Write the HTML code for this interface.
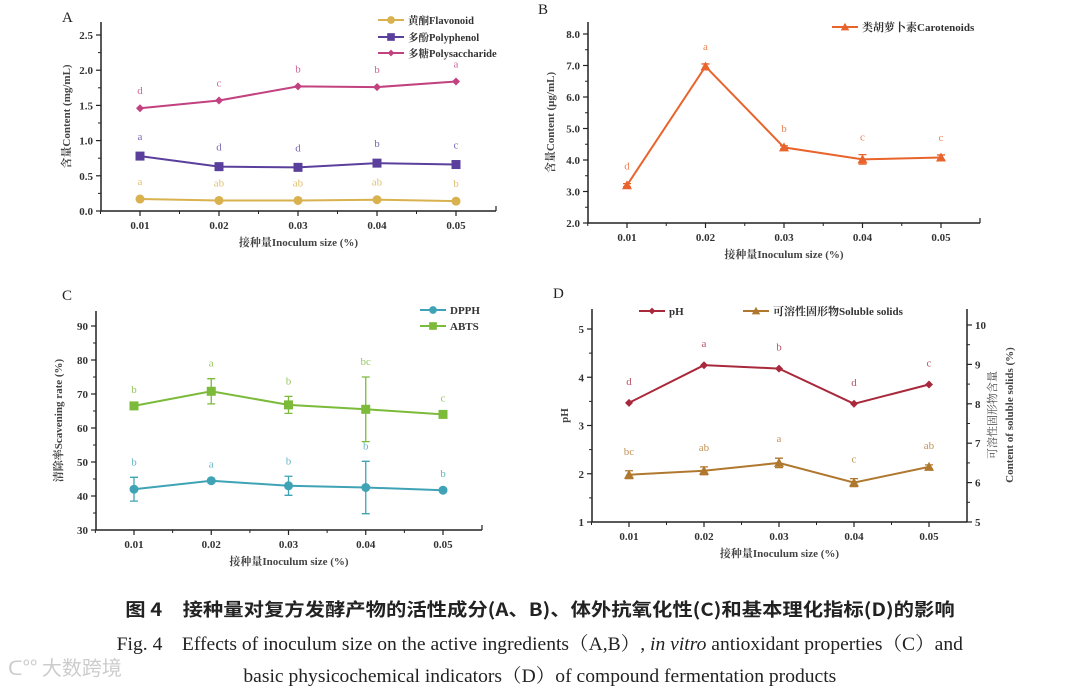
<!DOCTYPE html>
<html><head><meta charset="utf-8"><style>
html,body{margin:0;padding:0;background:#fff;}
body{width:1080px;height:687px;overflow:hidden;position:relative;font-family:"Liberation Serif","Noto Serif CJK SC",serif;}
svg text{font-family:"Liberation Serif","Noto Serif CJK SC",serif;}
.cap{position:absolute;left:0;width:1080px;text-align:center;color:#222;white-space:nowrap;}
</style></head><body>
<svg id="chart" width="1080" height="590" style="position:absolute;left:0;top:0"></svg>
<div class="cap" style="top:596px;font-size:18px;font-weight:bold;font-family:'Noto Sans CJK SC',sans-serif;"><span style="display:inline-block;transform:scaleX(1.13)">图 4　接种量对复方发酵产物的活性成分(A、B)、体外抗氧化性(C)和基本理化指标(D)的影响</span></div>
<div class="cap" style="top:629px;font-size:19px;"><span style="display:inline-block;transform:scaleX(1.03)">Fig. 4　Effects of inoculum size on the active ingredients（A,B）, <i>in vitro</i> antioxidant properties（C）and</span></div>
<div class="cap" style="top:661px;font-size:19px;"><span style="display:inline-block;transform:scaleX(1.03)">basic physicochemical indicators（D）of compound fermentation products</span></div>
<div style="position:absolute;left:8px;top:652px;font-size:20px;color:#ccc;font-family:'Noto Sans CJK SC',sans-serif;">ᑕ°° 大数跨境</div>
<script>
const xCats=["0.01","0.02","0.03","0.04","0.05"];
const flavonoid=[0.17,0.15,0.15,0.16,0.14];
const polyphenol=[0.78,0.63,0.62,0.68,0.66];
const polysaccharide=[1.46,1.57,1.77,1.76,1.84];
const flavLetters=["a","ab","ab","ab","b"];
const polyLetters=["a","d","d","b","c"];
const sacLetters=["d","c","b","b","a"];
const aTicks=["0.0","0.5","1.0","1.5","2.0","2.5"];
const carotenoid=[3.2,6.97,4.4,4.02,4.08];
const carotErr=[0.05,0.08,0.05,0.15,0.08];
const carotLetters=["d","a","b","c","c"];
const bTicks=["2.0","3.0","4.0","5.0","6.0","7.0","8.0"];
const dpph=[42,44.5,43,42.5,41.7];
const dpphErr=[3.5,0.3,2.8,7.7,0.3];
const abts=[66.5,70.8,66.8,65.5,64];
const abtsErr=[0.3,3.7,2.5,9.5,0.3];
const dpphLetters=["b","a","b","b","b"];
const abtsLetters=["b","a","b","bc","c"];
const cTicks=["30","40","50","60","70","80","90"];
const ph=[3.47,4.25,4.18,3.45,3.85];
const solids=[6.2,6.3,6.5,6.0,6.4];
const solidsErr=[0.1,0.1,0.12,0.1,0.05];
const phLetters=["d","a","b","d","c"];
const solidLetters=["bc","ab","a","c","ab"];
const dTicks=["1","2","3","4","5"];
const dRTicks=["5","6","7","8","9","10"];

const svg=document.getElementById('chart');
const NS='http://www.w3.org/2000/svg';
function mk(tag,attrs,parent){const e=document.createElementNS(NS,tag);for(const k in attrs)e.setAttribute(k,attrs[k]);(parent||svg).appendChild(e);return e;}
function txt(s,x,y,attrs,parent){const e=mk('text',Object.assign({x:x,y:y},attrs),parent);e.textContent=s;return e;}

function panel(cfg){
  const g=mk('g',{});
  
  
  const xs=i=>cfg.x0+i*cfg.dx;
  const ys=v=>cfg.yb-(v-cfg.ymin)*cfg.ky;
  cfg.xs=xs;cfg.ys=ys;
  const ax=mk('path',{d:`M${cfg.ax},${cfg.yt}V${cfg.yb}H${cfg.axr}`,stroke:'#222','stroke-width':1.5,fill:'none'},g);
  
  
  if(cfg.rightAxis){mk('line',{x1:cfg.axr,x2:cfg.axr,y1:cfg.yt,y2:cfg.yb,stroke:'#222','stroke-width':1.5},g);}
  else mk('line',{x1:cfg.axr,x2:cfg.axr,y1:cfg.yb,y2:cfg.yb-5,stroke:'#222','stroke-width':1.2},g);
  cfg.ticks.forEach((t,i)=>{const v=parseFloat(t);const y=ys(v);
    mk('line',{x1:cfg.ax-5,x2:cfg.ax,y1:y,y2:y,stroke:'#222','stroke-width':1.2},g);
    if(i<cfg.ticks.length-1){const ym=ys(v+(parseFloat(cfg.ticks[1])-parseFloat(cfg.ticks[0]))/2);mk('line',{x1:cfg.ax-3,x2:cfg.ax,y1:ym,y2:ym,stroke:'#222','stroke-width':1},g);}
    const l=txt(t,cfg.ax-8,y+4,{'text-anchor':'end','font-size':11,fill:'#333','font-weight':'bold'},g);
    
    
  });
  xCats.forEach((c,i)=>{const x=xs(i);
    mk('line',{x1:x,x2:x,y1:cfg.yb,y2:cfg.yb+5,stroke:'#222','stroke-width':1.2},g);
    if(i<xCats.length-1)mk('line',{x1:x+cfg.dx/2,x2:x+cfg.dx/2,y1:cfg.yb,y2:cfg.yb+3,stroke:'#222','stroke-width':1},g);
    const l=txt(c,x,cfg.yb+18,{'text-anchor':'middle','font-size':11,fill:'#333','font-weight':'bold'},g);
    
    
  });
  mk('line',{x1:xs(0)-cfg.dx/2,x2:xs(0)-cfg.dx/2,y1:cfg.yb,y2:cfg.yb+3,stroke:'#222','stroke-width':1},g);
  const xt=txt('接种量Inoculum size (%)',(cfg.ax+cfg.axr)/2,cfg.yb+35,{'text-anchor':'middle','font-size':11,fill:'#444','font-weight':'bold'},g);
  
  
  const cy=(cfg.yt+cfg.yb)/2;
  const yt=txt(cfg.ytitle,cfg.ytx,cy,{'text-anchor':'middle','font-size':11,fill:'#444','font-weight':'bold',transform:`rotate(-90 ${cfg.ytx} ${cy})`},g);
  
  
  const pl=txt(cfg.letter,cfg.lx,cfg.ly,{'font-size':15,fill:'#222'},g);
  
  
  cfg.g=g;
  return cfg;
}
function marker(shape,x,y,color,g,s){
  s=s||1;
  if(shape==='circle')return mk('circle',{cx:x,cy:y,r:4.5*s,fill:color},g);
  if(shape==='square')return mk('rect',{x:x-4.5*s,y:y-4.5*s,width:9*s,height:9*s,fill:color},g);
  if(shape==='diamond')return mk('path',{d:`M${x},${y-4*s}L${x+4*s},${y}L${x},${y+4*s}L${x-4*s},${y}Z`,fill:color},g);
  return mk('path',{d:`M${x},${y-5*s}L${x+5*s},${y+4*s}L${x-5*s},${y+4*s}Z`,fill:color},g);
}
function series(p,name,vals,errs,letters,color,shape,ys,loff){
  ys=ys||p.ys;
  const g=mk('g',{},p.g);
  
  
  const pts=vals.map((v,i)=>[p.xs(i),ys(v)]);
  const ln=mk('polyline',{points:pts.map(q=>q.join(',')).join(' '),fill:'none',stroke:color,'stroke-width':2},g);
  
  
  vals.forEach((v,i)=>{
    const x=p.xs(i);
    if(errs){const e=errs[i];const y1=ys(v+e),y2=ys(v-e);
      mk('path',{d:`M${x},${y1}V${y2}M${x-4},${y1}H${x+4}M${x-4},${y2}H${x+4}`,stroke:color,'stroke-width':1.3,fill:'none'},g);}
    const m=marker(shape,x,ys(v),color,g);
    
    
    const top=errs?ys(v+errs[i]):ys(v);
    const l=txt(letters[i],x,Math.min(top,ys(v))-loff,{'text-anchor':'middle','font-size':11,fill:color,opacity:0.8},g);
    
    
  });
}
function legend(p,items){
  items.forEach(it=>{
    const g=mk('g',{},p.g);
    
    
    mk('line',{x1:it.x,x2:it.x+26,y1:it.y,y2:it.y,stroke:it.c,'stroke-width':2},g);
    marker(it.s,it.x+13,it.y,it.c,g,0.85);
    txt(it.t,it.x+30,it.y+4,{'font-size':it.fs||10.5,fill:'#333','font-weight':'bold'},g);
  });
}

// Panel A
const A=panel({name:'panel-a',letter:'A',lx:62,ly:22,ax:101,axr:496,yt:22,yb:211,ymin:0,ky:70.4,x0:140,dx:79,ticks:aTicks,ytitle:'含量Content (mg/mL)',ytx:70});
series(A,'flavonoid',flavonoid,null,flavLetters,'#d9b14f','circle',null,14);
series(A,'polyphenol',polyphenol,null,polyLetters,'#5b3f9c','square',null,16);
series(A,'polysaccharide',polysaccharide,null,sacLetters,'#c2417f','diamond',null,14);
legend(A,[{x:378,y:20,c:'#d9b14f',s:'circle',t:'黄酮Flavonoid'},{x:378,y:37,c:'#5b3f9c',s:'square',t:'多酚Polyphenol'},{x:378,y:53,c:'#c2417f',s:'diamond',t:'多糖Polysaccharide'}]);

// Panel B
const B=panel({name:'panel-b',letter:'B',lx:538,ly:14,ax:588,axr:980,yt:22,yb:223,ymin:2,ky:31.5,x0:627,dx:78.5,ticks:bTicks,ytitle:'含量Content (μg/mL)',ytx:554});
series(B,'carotenoid',carotenoid,carotErr,carotLetters,'#e8642c','triangle',null,14);
legend(B,[{x:832,y:27,c:'#e8642c',s:'triangle',t:'类胡萝卜素Carotenoids',fs:11}]);

// Panel C
const C=panel({name:'panel-c',letter:'C',lx:62,ly:300,ax:96,axr:482,yt:311,yb:530,ymin:30,ky:3.4,x0:134,dx:77.25,ticks:cTicks,ytitle:'清除率Scavening rate (%)',ytx:62});
series(C,'dpph',dpph,dpphErr,dpphLetters,'#3fa3b5','circle',null,12);
series(C,'abts',abts,abtsErr,abtsLetters,'#7cba3a','square',null,12);
legend(C,[{x:420,y:310,c:'#3fa3b5',s:'circle',t:'DPPH',fs:11},{x:420,y:326,c:'#7cba3a',s:'square',t:'ABTS',fs:11}]);

// Panel D
const D=panel({name:'panel-d',letter:'D',lx:553,ly:298,ax:592,axr:967,yt:309,yb:522,ymin:1,ky:48.25,x0:629,dx:75,ticks:dTicks,ytitle:'pH',ytx:568,rightAxis:true});
const ysR=v=>522-(v-5)*39.4;
dRTicks.forEach((t,i)=>{const y=ysR(parseFloat(t));
  mk('line',{x1:967,x2:972,y1:y,y2:y,stroke:'#222','stroke-width':1.2},D.g);
  if(i<dRTicks.length-1){const ym=ysR(parseFloat(t)+0.5);mk('line',{x1:967,x2:970,y1:ym,y2:ym,stroke:'#222','stroke-width':1},D.g);}
  const l=txt(t,975,y+4,{'font-size':11,fill:'#333','font-weight':'bold'},D.g);
  
  
});
const rt1=txt('可溶性固形物含量',996,415,{'text-anchor':'middle','font-size':11,fill:'#444',transform:'rotate(-90 996 415)'},D.g);


const rt2=txt('Content of soluble solids (%)',1013,415,{'text-anchor':'middle','font-size':11,fill:'#444','font-weight':'bold',transform:'rotate(-90 1013 415)'},D.g);


series(D,'ph',ph,null,phLetters,'#a8283c','diamond',null,18);
series(D,'soluble-solids',solids,solidsErr,solidLetters,'#b0782e','triangle',ysR,16);
legend(D,[{x:639,y:311,c:'#a8283c',s:'diamond',t:'pH',fs:11},{x:743,y:311,c:'#b0782e',s:'triangle',t:'可溶性固形物Soluble solids',fs:11}]);
</script>
</body></html>
